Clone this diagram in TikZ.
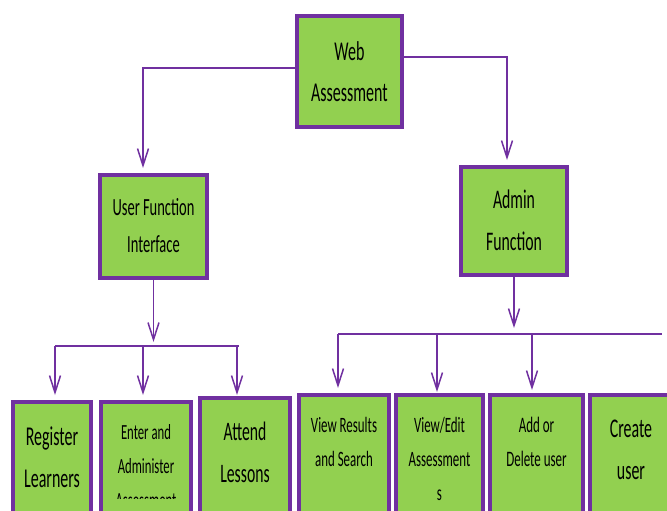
\documentclass[tikz,border=0pt]{standalone}
\usepackage{fontspec}
\setmainfont{Carlito}
\usetikzlibrary{arrows.meta}
\definecolor{boxpurple}{HTML}{7030A0}
\definecolor{boxgreen}{HTML}{92D050}
% tall, narrow lettering: #1 font size, #2 baselineskip before stretching, #3 lines
\newcommand\tallstack[3]{\scalebox{1}[1.7]{\fontsize{#1pt}{#2pt}\selectfont\begin{tabular}{@{}c@{}}#3\end{tabular}}}
\tikzset{
  box/.style={draw=boxpurple, fill=boxgreen, line width=4pt, rectangle, inner sep=0pt},
  lbl/.style={anchor=north, inner sep=0pt, text=black},
  link/.style={draw=boxpurple, line width=1.5pt},
  arr/.style={link, -{Straight Barb[length=17pt,width=11pt]}},
}
\begin{document}
\begin{tikzpicture}[x=1pt,y=-1pt]
\useasboundingbox (0,0) rectangle (667,511);
\clip (0,0) rectangle (667,511);

% top level
\node[box, minimum width=105pt, minimum height=111pt] (web) at (349.5,71.5) {};
\node[lbl] (webtxt) at (349.5,31.3) {\tallstack{16}{24.1}{Web\\Assessment}};

% second level
\node[box, minimum width=107pt, minimum height=103pt] (user) at (153.5,226.5) {};
\node[lbl] (usertxt) at (153.5,189) {\tallstack{14.5}{21.8}{User Function\\Interface}};
\node[box, minimum width=106pt, minimum height=108pt] (admin) at (514,221) {};
\node[lbl] (admintxt) at (514,178.6) {\tallstack{15.8}{24.7}{Admin\\Function}};

% bottom level (runs past the lower edge)
\node[box, minimum width=78pt, minimum height=140pt] (register) at (52,472) {};
\node[lbl] (registertxt) at (52,415.6) {\tallstack{16}{24.7}{Register\\Learners}};
\node[box, minimum width=90pt, minimum height=140pt] (enter) at (146,472) {};
\begin{scope}
  \clip (99,400) rectangle (193,498);
  \node[lbl] (entertxt) at (146,415.2) {\tallstack{12.7}{20}{Enter and\\Administer\\Assessment}};
\end{scope}
\node[box, minimum width=90pt, minimum height=140pt] (attend) at (245,468) {};
\node[lbl] (attendtxt) at (245,410.6) {\tallstack{15.7}{24.7}{Attend\\Lessons}};
\node[box, minimum width=90pt, minimum height=140pt] (viewres) at (344,465) {};
\node[lbl] (viewrestxt) at (344,408.2) {\tallstack{12.9}{20}{View Results\\and Search}};
\node[box, minimum width=87pt, minimum height=140pt] (viewedit) at (439.5,465) {};
\node[lbl] (viewedittxt) at (439.5,408.2) {\tallstack{12.9}{20}{View/Edit\\Assessment\\s}};
\node[box, minimum width=93pt, minimum height=140pt] (adddel) at (536.5,465) {};
\node[lbl] (adddeltxt) at (536.5,408.2) {\tallstack{13}{20}{Add or\\Delete user}};
\node[box, minimum width=84pt, minimum height=140pt] (create) at (632,465) {};
\node[lbl] (createtxt) at (631,407.6) {\tallstack{15.9}{24.7}{Create\\user}};

% top connectors
\draw[arr] ([yshift=3.5pt]web.west) -| ([xshift=-10.5pt,yshift=5pt]user.north);
\draw[arr] ([yshift=14.5pt]web.east) -| ([xshift=-7pt,yshift=5pt]admin.north);

% user branch
\coordinate (ubus) at (153.5,346);
\draw[arr] (user.south) -- ([yshift=4pt]ubus);
\draw[link] ([xshift=-98.5pt]ubus) -- ([xshift=85.5pt]ubus);
\draw[arr] ([xshift=3pt]register.north |- ubus) -- ([xshift=3pt,yshift=5pt]register.north);
\draw[arr] ([xshift=-3pt]enter.north |- ubus) -- ([xshift=-3pt,yshift=5pt]enter.north);
\draw[arr] ([xshift=-8pt]attend.north |- ubus) -- ([xshift=-8pt,yshift=1pt]attend.north);

% admin branch
\coordinate (abus) at (514,334);
\draw[arr] (admin.south) -- ([yshift=6pt]abus);
\draw[link] ([xshift=-176pt]abus) -- ([xshift=148pt]abus);
\draw[arr] ([xshift=-6pt]viewres.north |- abus) -- ([xshift=-6pt,yshift=5pt]viewres.north);
\draw[arr] ([xshift=-2.5pt]viewedit.north |- abus) -- ([xshift=-2.5pt,yshift=1pt]viewedit.north);
\draw[arr] ([xshift=-4.5pt]adddel.north |- abus) -- ([xshift=-4.5pt,yshift=3pt]adddel.north);
\end{tikzpicture}
\end{document}
